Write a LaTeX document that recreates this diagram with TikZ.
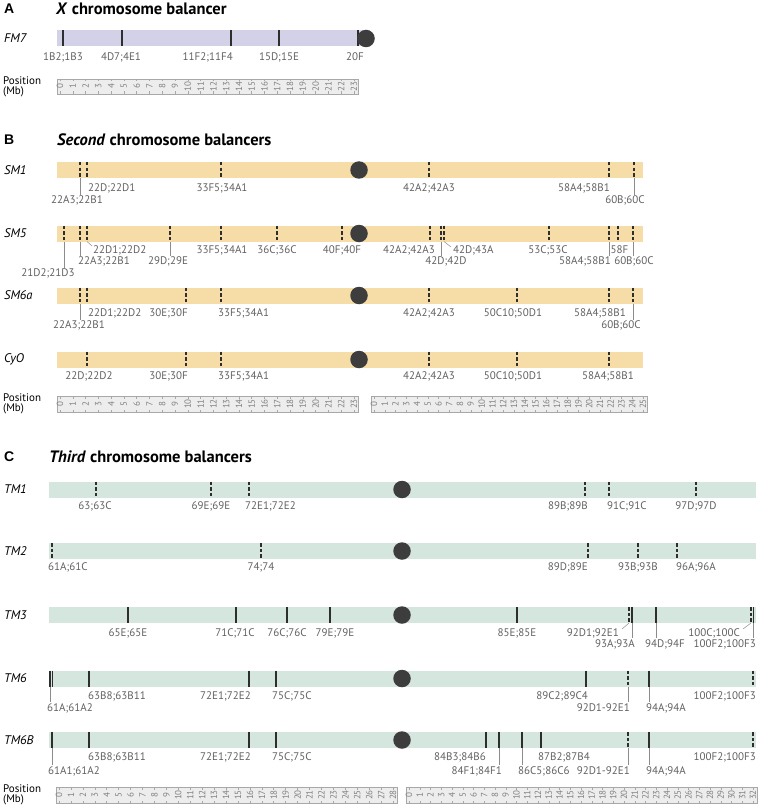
\documentclass[tikz,border=0pt]{standalone}
\usepackage{fontspec}
\setmainfont{PT Sans}
\newfontfamily\hfont{Liberation Sans}
\definecolor{colX}{HTML}{D3D1E7}
\definecolor{colII}{HTML}{F6DCA7}
\definecolor{colIII}{HTML}{D5E6DE}
\definecolor{cencol}{HTML}{3D3D3D}
\definecolor{bpcol}{HTML}{2E2E2E}
\definecolor{rfill}{HTML}{EDEDED}
\definecolor{rline}{HTML}{A8A8A8}
\newcommand\mbruler[5]{%
  \fill[rfill] ({#1-3},#4) rectangle ({#1+#3*#2+4},#5);
  \draw[rline,line width=0.5pt] ({#1-3},#4) rectangle ({#1+#3*#2+4},#5);
  \foreach \i in {0,...,#3}{
    \draw[rline,line width=0.5pt] ({#1+\i*#2},#4) -- ++(0,2.5);
    \draw[rline,line width=0.5pt] ({#1+\i*#2},#5) -- ++(0,-2.5);
    \node[rnum] at ({#1+\i*#2},{(#4+#5)/2}) {\i};
  }%
}
\begin{document}
\begin{tikzpicture}[x=1pt,y=-1pt,
  lbl/.style={font=\fontsize{11}{12}\selectfont, text=black!62, inner sep=0pt},
  rowname/.style={font=\fontsize{12.5}{14}\selectfont\itshape, anchor=west, inner sep=0pt},
  title/.style={font=\fontsize{16.5}{18}\selectfont\bfseries, anchor=west, inner sep=0pt},
  panel/.style={font=\hfont\fontsize{14}{16}\selectfont\bfseries, anchor=west, inner sep=0pt},
  poslbl/.style={font=\fontsize{11}{10.5}\selectfont, align=left, anchor=west, inner sep=0pt},
  rnum/.style={font=\fontsize{9}{9}\selectfont, text=black!50, rotate=90, inner sep=0pt},
  bps/.style={draw=bpcol, line width=1.3pt},
  bpd/.style={draw=bpcol, line width=1.3pt, dash pattern=on 3.5pt off 2.2pt},
  leader/.style={draw=black!45, line width=0.5pt},
  cen/.style={circle, fill=cencol, minimum size=17.5pt, inner sep=0pt},
]
\useasboundingbox (0,0) rectangle (759,805);

%% ---------------- Panel A ----------------
\node[panel] (pA) at (4,9) {A};
\node[title] (tA) at (56,9) {\textit{X} chromosome balancer};
\node[rowname] (nFM7) at (4,38.5) {FM7};
\fill[colX] (57,30.5) rectangle (363,46.5);
\foreach \x in {63,122,231,279,358} \draw[bps] (\x,30.5) -- (\x,46.5);
\node[cen] (cFM7) at (366,38.5) {};
\node[lbl,anchor=base] at (63,61) {1B2;1B3};
\node[lbl,anchor=base] at (121,61) {4D7;4E1};
\node[lbl,anchor=base east] at (233,61) {11F2;11F4};
\node[lbl,anchor=base] at (279,61) {15D;15E};
\node[lbl,anchor=base east] at (364,61) {20F};
\node[poslbl] (posA) at (3,87) {Position\\(Mb)};
\mbruler{60}{12.78}{23}{79}{94}

%% ---------------- Panel B ----------------
\node[panel] (pB) at (4,140) {B};
\node[title] (tB) at (57,140) {\textit{Second} chromosome balancers};

% SM1  c=170
\node[rowname] (nSM1) at (4,170) {SM1};
\fill[colII] (57,162) rectangle (643,178);
\foreach \x in {80,87,221,429,609,634} \draw[bpd] (\x,162) -- (\x,178);
\node[cen] (cSM1) at (359,170) {};
\node[lbl,anchor=base west] at (88,192) {22D;22D1};
\node[lbl,anchor=base] at (77,204) {22A3;22B1};
\draw[leader] (80,178) -- (80,195);
\node[lbl,anchor=base] at (222,192) {33F5;34A1};
\node[lbl,anchor=base] at (429,192) {42A2;42A3};
\node[lbl,anchor=base east] at (610,192) {58A4;58B1};
\node[lbl,anchor=base] at (625,204) {60B;60C};
\draw[leader] (634,178) -- (634,195);

% SM5  c=233.5
\node[rowname] (nSM5) at (4,233.5) {SM5};
\fill[colII] (57,225.5) rectangle (643,241.5);
\foreach \x in {64,80,87,170,221,277,342,430,441,444,549,609,618,633} \draw[bpd] (\x,225.5) -- (\x,241.5);
\node[cen] (cSM5) at (359,233.5) {};
\node[lbl,anchor=base west] at (93,253) {22D1;22D2};
\draw[leader] (87,241.5) -- (92,246);
\node[lbl,anchor=base] at (222,253) {33F5;34A1};
\node[lbl,anchor=base] at (277,253) {36C;36C};
\node[lbl,anchor=base] at (342,253) {40F;40F};
\node[lbl,anchor=base east] at (435,253) {42A2;42A3};
\node[lbl,anchor=base west] at (453,253) {42D;43A};
\draw[leader] (444,241.5) -- (451,247);
\node[lbl,anchor=base] at (548,253) {53C;53C};
\node[lbl,anchor=base] at (619.5,253) {58F};
\node[lbl,anchor=base west] at (78,264.5) {22A3;22B1};
\draw[leader] (80,241.5) -- (80,256);
\node[lbl,anchor=base] at (168,264.5) {29D;29E};
\draw[leader] (170,241.5) -- (170,256);
\node[lbl,anchor=base] at (446,264.5) {42D;42D};
\draw[leader] (441,241.5) -- (441,256);
\node[lbl,anchor=base east] at (611,264.5) {58A4;58B1};
\draw[leader] (609,241.5) -- (609,256);
\node[lbl,anchor=base] at (634,264.5) {60B;60C};
\draw[leader] (633,241.5) -- (633,256);
\node[lbl,anchor=base] at (48,276) {21D2;21D3};
\draw[leader] (64,241.5) -- (64,267.5);

% SM6a c=295.5
\node[rowname] (nSM6a) at (4,295.5) {SM6a};
\fill[colII] (57,287.5) rectangle (643,303.5);
\foreach \x in {80,87,186,221,429,517,609,633} \draw[bpd] (\x,287.5) -- (\x,303.5);
\node[cen] (cSM6a) at (359,295.5) {};
\node[lbl,anchor=base west] at (88,316) {22D1;22D2};
\node[lbl,anchor=base east] at (188,316) {30E;30F};
\node[lbl,anchor=base west] at (218,316) {33F5;34A1};
\node[lbl,anchor=base] at (429,316) {42A2;42A3};
\node[lbl,anchor=base] at (513,316) {50C10;50D1};
\node[lbl,anchor=base] at (600,316) {58A4;58B1};
\node[lbl,anchor=base] at (79,328.5) {22A3;22B1};
\draw[leader] (80,303.5) -- (80,320);
\node[lbl,anchor=base] at (621,328.5) {60B;60C};
\draw[leader] (633,303.5) -- (633,320);

% CyO c=359.5
\node[rowname] (nCyO) at (4,359.5) {CyO};
\fill[colII] (57,351.5) rectangle (643,367.5);
\foreach \x in {87,186,221,429,517,609} \draw[bpd] (\x,351.5) -- (\x,367.5);
\node[cen] (cCyO) at (359,359.5) {};
\node[lbl,anchor=base] at (89,379) {22D;22D2};
\node[lbl,anchor=base east] at (188,379) {30E;30F};
\node[lbl,anchor=base west] at (218,379) {33F5;34A1};
\node[lbl,anchor=base] at (429,379) {42A2;42A3};
\node[lbl,anchor=base] at (513,379) {50C10;50D1};
\node[lbl,anchor=base] at (608,379) {58A4;58B1};

\node[poslbl] (posB) at (3,404) {Position\\(Mb)};
\mbruler{60}{12.78}{23}{396}{412}
\mbruler{374}{10.76}{25}{396}{412}

%% ---------------- Panel C ----------------
\node[panel] (pC) at (4,457) {C};
\node[title] (tC) at (49,457) {\textit{Third} chromosome balancers};

% TM1 c=489.5
\node[rowname] (nTM1) at (4,489.5) {TM1};
\fill[colIII] (49,481.5) rectangle (756,497.5);
\foreach \x in {96,211,249,585,609,696} \draw[bpd] (\x,481.5) -- (\x,497.5);
\node[cen] (cTM1) at (402,489.5) {};
\node[lbl,anchor=base] at (95,509) {63;63C};
\node[lbl,anchor=base] at (211,509) {69E;69E};
\node[lbl,anchor=base west] at (245,509) {72E1;72E2};
\node[lbl,anchor=base east] at (588,509) {89B;89B};
\node[lbl,anchor=base west] at (607,509) {91C;91C};
\node[lbl,anchor=base] at (696,509) {97D;97D};

% TM2 c=551
\node[rowname] (nTM2) at (4,551) {TM2};
\fill[colIII] (49,543) rectangle (756,559);
\foreach \x in {52,261,588,638,677} \draw[bpd] (\x,543) -- (\x,559);
\node[cen] (cTM2) at (402,551) {};
\node[lbl,anchor=base west] at (48,570.5) {61A;61C};
\node[lbl,anchor=base] at (261,570.5) {74;74};
\node[lbl,anchor=base east] at (588,570.5) {89D;89E};
\node[lbl,anchor=base] at (638,570.5) {93B;93B};
\node[lbl,anchor=base west] at (676,570.5) {96A;96A};

% TM3 c=615
\node[rowname] (nTM3) at (4,615) {TM3};
\fill[colIII] (49,607) rectangle (756,623);
\foreach \x in {128,236,287,330,517,632,656,753.5} \draw[bps] (\x,607) -- (\x,623);
\foreach \x in {629,751} \draw[bpd] (\x,607) -- (\x,623);
\node[cen] (cTM3) at (402,615) {};
\node[lbl,anchor=base] at (128,636) {65E;65E};
\node[lbl,anchor=base] at (235,636) {71C;71C};
\node[lbl,anchor=base] at (287,636) {76C;76C};
\node[lbl,anchor=base] at (335,636) {79E;79E};
\node[lbl,anchor=base] at (517,636) {85E;85E};
\node[lbl,anchor=base east] at (619,636) {92D1;92E1};
\draw[leader] (629,623) -- (622,629);
\node[lbl,anchor=base east] at (740,636) {100C;100C};
\draw[leader] (751,623) -- (743,629);
\node[lbl,anchor=base east] at (635,647) {93A;93A};
\draw[leader] (632,623) -- (632,638);
\node[lbl,anchor=base] at (665,647) {94D;94F};
\draw[leader] (656,623) -- (656,638);
\node[lbl,anchor=base east] at (756,647) {100F2;100F3};
\draw[leader] (753.5,623) -- (753.5,638);

% TM6 c=678.5
\node[rowname] (nTM6) at (4,678.5) {TM6};
\fill[colIII] (49,670.5) rectangle (756,686.5);
\foreach \x in {50,52.5,89,249,276,586,649} \draw[bps] (\x,670.5) -- (\x,686.5);
\foreach \x in {628,753} \draw[bpd] (\x,670.5) -- (\x,686.5);
\node[cen] (cTM6) at (402,678.5) {};
\node[lbl,anchor=base west] at (88,699) {63B8;63B11};
\node[lbl,anchor=base east] at (251,699) {72E1;72E2};
\node[lbl,anchor=base west] at (272,699) {75C;75C};
\node[lbl,anchor=base east] at (588,699) {89C2;89C4};
\node[lbl,anchor=base east] at (756,699) {100F2;100F3};
\node[lbl,anchor=base west] at (47,711) {61A;61A2};
\draw[leader] (50,686.5) -- (50,702);
\node[lbl,anchor=base east] at (630,711) {92D1-92E1};
\draw[leader] (628,686.5) -- (628,702);
\node[lbl,anchor=base west] at (646,711) {94A;94A};
\draw[leader] (649,686.5) -- (649,702);

% TM6B c=740
\node[rowname] (nTM6B) at (4,740) {TM6B};
\fill[colIII] (49,732) rectangle (756,748);
\foreach \x in {52,89,249,276,486,499,522,541,649} \draw[bps] (\x,732) -- (\x,748);
\foreach \x in {628,753} \draw[bpd] (\x,732) -- (\x,748);
\node[cen] (cTM6B) at (402,740) {};
\node[lbl,anchor=base west] at (88,760) {63B8;63B11};
\node[lbl,anchor=base east] at (251,760) {72E1;72E2};
\node[lbl,anchor=base west] at (272,760) {75C;75C};
\node[lbl,anchor=base east] at (486,760) {84B3;84B6};
\node[lbl,anchor=base west] at (538,760) {87B2;87B4};
\node[lbl,anchor=base east] at (756,760) {100F2;100F3};
\node[lbl,anchor=base west] at (48,774) {61A1;61A2};
\draw[leader] (52,748) -- (52,764.5);
\node[lbl,anchor=base east] at (502,774) {84F1;84F1};
\draw[leader] (499,748) -- (499,764.5);
\node[lbl,anchor=base west] at (518,774) {86C5;86C6};
\draw[leader] (522,748) -- (522,764.5);
\node[lbl,anchor=base east] at (630,774) {92D1-92E1};
\draw[leader] (628,748) -- (628,764.5);
\node[lbl,anchor=base west] at (646,774) {94A;94A};
\draw[leader] (649,748) -- (649,764.5);

\node[poslbl] (posC) at (3,795) {Position\\(Mb)};
\mbruler{59}{11.93}{28}{787}{803}
\mbruler{409}{10.75}{32}{787}{803}
\end{tikzpicture}
\end{document}
